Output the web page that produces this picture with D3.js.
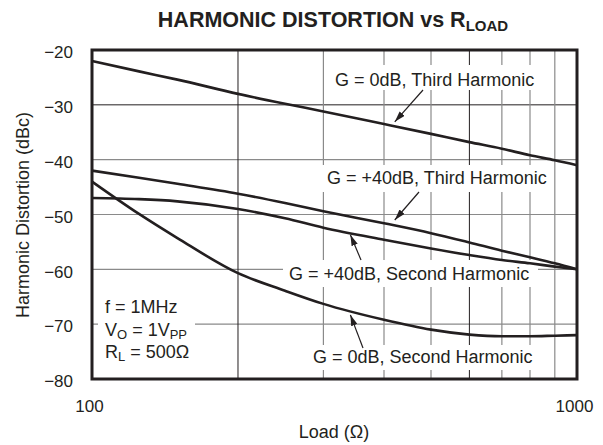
<!DOCTYPE html>
<html lang="en">
<head>
  <meta charset="UTF-8">
  <title>Harmonic Distortion vs RLOAD</title>
  <script src="https://d3js.org/d3.v7.min.js"></script>
  <style>
    body {
      margin: 0;
      background: #fff;
    }
    svg {
      display: block;
      font-family: "Liberation Sans", Arial, sans-serif;
    }
    .curve {
      fill: none;
      stroke: #231f20;
      stroke-width: 2.6px;
    }
    .grid {
      stroke: #8a8a8a;
      stroke-width: 1.2px;
    }
    .grid.dark {
      stroke: #231f20;
      stroke-width: 1px;
    }
    .lbl {
      font-size: 18px;
      fill: #231f20;
    }
    .tick {
      font-size: 17px;
      fill: #231f20;
    }
  </style>
</head>
<body>
  <svg width="603" height="445"></svg>
  <script>
    // load values (ohm)
    const loads = [100, 125, 150, 200, 250, 300, 400, 500, 600, 700, 800, 900, 1000];
    const third0dB = [-22, -23.9, -25.4, -28.0, -29.8, -31.2, -33.5, -35.3, -36.8, -38.0, -39.2, -40.1, -41];
    const third40dB = [-42, -43.3, -44.4, -46.2, -47.9, -49.4, -51.6, -53.4, -55.1, -56.6, -57.8, -58.9, -60];
    const second40dB = [-47, -47.2, -47.6, -49.0, -50.7, -52.4, -54.6, -56.2, -57.4, -58.3, -58.9, -59.5, -60];
    const second0dB = [-44, -49.9, -54.3, -60.7, -63.9, -66.3, -69.2, -71.0, -71.9, -72.2, -72.2, -72.1, -72.0];

    const yTicks = [-80, -70, -60, -50, -40, -30, -20];
    const xTickLabels = [100, 1000];
    const xGrid = [200, 300, 400, 500, 600, 700, 800, 900];

    // annotation text and where its arrow points (load, dBc)
    const annText = ["G = 0dB, Third Harmonic", "G = +40dB, Third Harmonic",
                     "G = +40dB, Second Harmonic", "G = 0dB, Second Harmonic"];
    const annLoad = [421, 421, 341, 341];
    const annDb = [-33.1, -51.0, -53.7, -68.3];

    const svg = d3.select("svg");
    const pL = 92, pT = 50, pR = 577, pB = 379;

    const x = d3.scaleLog().domain([100, 1000]).range([pL, pR]);
    const y = d3.scaleLinear().domain([-80, -20]).range([pB, pT]);

    // grid
    svg.selectAll(".hgrid")
      .data(yTicks.slice(1, -1))
      .enter().append("line")
      .attr("class", d => d === -30 ? "grid dark" : "grid")
      .attr("x1", pL).attr("x2", pR)
      .attr("y1", d => y(d)).attr("y2", d => y(d));

    svg.selectAll(".vgrid")
      .data(xGrid)
      .enter().append("line")
      .attr("class", d => (d === 200 || d === 600) ? "grid dark" : "grid")
      .attr("x1", d => x(d)).attr("x2", d => x(d))
      .attr("y1", pT).attr("y2", pB);

    // white boxes behind the labels
    const boxes = [
      [329, 65, 214, 25],
      [322, 165, 231, 27],
      [283, 260, 255, 27],
      [307, 345, 234, 25],
      [98, 290, 97, 72]
    ];
    svg.selectAll(".box")
      .data(boxes)
      .enter().append("rect")
      .attr("x", d => d[0]).attr("y", d => d[1])
      .attr("width", d => d[2]).attr("height", d => d[3])
      .attr("fill", "#fff");

    // curves
    const line = d3.line()
      .x(d => x(d[0]))
      .y(d => y(d[1]))
      .curve(d3.curveMonotoneX);

    [third0dB, third40dB, second40dB, second0dB].forEach(s => {
      svg.append("path")
        .attr("class", "curve")
        .attr("d", line(loads.map((l, i) => [l, s[i]])));
    });

    // annotations
    const annPos = [[335, 86], [327, 184], [289, 280], [313, 363]];
    const tails = [[423, 90], [419, 192], [361, 260], [363, 348]];

    svg.append("defs").append("marker")
      .attr("id", "arr")
      .attr("viewBox", "0 0 10 6")
      .attr("refX", 10).attr("refY", 3)
      .attr("markerWidth", 11).attr("markerHeight", 7)
      .attr("markerUnits", "userSpaceOnUse")
      .attr("orient", "auto")
      .append("path")
      .attr("d", "M0,0L10,3L0,6Z")
      .attr("fill", "#231f20");

    annText.forEach((t, i) => {
      svg.append("text")
        .attr("class", "lbl")
        .attr("x", annPos[i][0])
        .attr("y", annPos[i][1])
        .text(t);
      svg.append("line")
        .attr("x1", tails[i][0]).attr("y1", tails[i][1])
        .attr("x2", x(annLoad[i])).attr("y2", y(annDb[i]))
        .attr("stroke", "#231f20")
        .attr("stroke-width", 1.2)
        .attr("marker-end", "url(#arr)");
    });

    // conditions
    const cond = svg.append("text").attr("class", "lbl");
    cond.append("tspan").attr("x", 105).attr("y", 313).text("f = 1MHz");
    cond.append("tspan").attr("x", 105).attr("y", 336).text("V");
    cond.append("tspan").attr("dy", 3).attr("font-size", 13).text("O");
    cond.append("tspan").attr("dy", -3).text(" = 1V");
    cond.append("tspan").attr("dy", 3).attr("font-size", 13).text("PP");
    cond.append("tspan").attr("x", 105).attr("y", 358).text("R");
    cond.append("tspan").attr("dy", 3).attr("font-size", 13).text("L");
    cond.append("tspan").attr("dy", -3).text(" = 500\u03a9");

    // frame
    svg.append("rect")
      .attr("x", pL).attr("y", pT)
      .attr("width", pR - pL).attr("height", pB - pT)
      .attr("fill", "none")
      .attr("stroke", "#231f20")
      .attr("stroke-width", 3);

    // tick labels
    svg.selectAll(".ytick")
      .data(yTicks)
      .enter().append("text")
      .attr("class", "tick")
      .attr("x", 73)
      .attr("y", d => y(d) + 8.3)
      .attr("text-anchor", "end")
      .text(d => "\u2212" + Math.abs(d));

    svg.selectAll(".xtick")
      .data(xTickLabels)
      .enter().append("text")
      .attr("class", "tick")
      .attr("x", d => x(d) - 2.5)
      .attr("y", 411.5)
      .attr("text-anchor", "middle")
      .text(d => d);

    // axis titles
    svg.append("text")
      .attr("class", "lbl")
      .attr("transform", "translate(28.5,215) rotate(-90)")
      .attr("text-anchor", "middle")
      .text("Harmonic Distortion (dBc)");

    svg.append("text")
      .attr("class", "lbl")
      .attr("x", 334).attr("y", 438)
      .attr("text-anchor", "middle")
      .text("Load (\u03a9)");

    const title = svg.append("text")
      .attr("x", 333).attr("y", 27)
      .attr("text-anchor", "middle")
      .attr("font-size", 21.5)
      .attr("font-weight", "bold")
      .attr("fill", "#231f20");
    title.append("tspan").text("HARMONIC DISTORTION vs R");
    title.append("tspan").attr("dy", 4).attr("font-size", 15).text("LOAD");
  </script>
</body>
</html>
